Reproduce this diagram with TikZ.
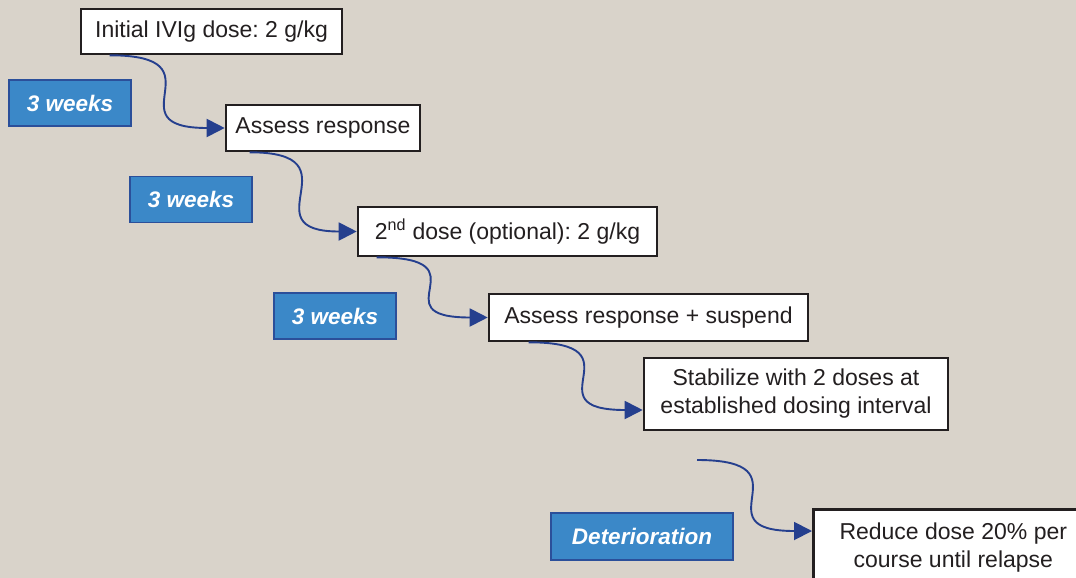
\documentclass[tikz,border=0pt]{standalone}
\usepackage{fontspec}
\setmainfont{Liberation Sans}
\usetikzlibrary{arrows.meta}
\frenchspacing
\definecolor{bg}{HTML}{D9D3CA}
\definecolor{bluefill}{HTML}{3B88C8}
\definecolor{blueline}{HTML}{2B4F9A}
\definecolor{arrowc}{HTML}{253F8E}
\definecolor{ink}{HTML}{231F20}
\tikzset{
  stepbox/.style={draw=ink, line width=2.6pt, fill=white, text=ink, align=center,
    inner sep=0pt, font=\fontsize{23}{28}\selectfont},
  tagbox/.style={draw=blueline, line width=1.4pt, fill=bluefill, text=white,
    inner sep=0pt, minimum width=122pt, minimum height=46pt,
    font=\fontsize{22.5}{27}\selectfont\bfseries\itshape},
  flow/.style={draw=arrowc, line width=1.9pt, -{Triangle[length=18pt,width=18pt]}}
}
\begin{document}
\begin{tikzpicture}[x=1pt,y=-1pt]
\useasboundingbox (0,0) rectangle (1076,578);
\clip (0,0) rectangle (1076,578);
\fill[bg] (0,0) rectangle (1076,578);

\node[stepbox, minimum width=261pt, minimum height=45pt] (b1) at (211.5,31.5) {Initial IVIg dose: 2 g/kg};
\node[stepbox, minimum width=194pt, minimum height=46pt] (b2) at (323,128) {Assess response};
\node[stepbox, minimum width=299pt, minimum height=49pt] (b3) at (507.5,231.5) {2\textsuperscript{nd} dose (optional): 2 g/kg};
\node[stepbox, minimum width=319pt, minimum height=47pt] (b4) at (648.5,317.5) {Assess response + suspend};
\node[stepbox, minimum width=304pt, minimum height=72pt] (b5) at (796,394) {Stabilize with 2 doses at\\established dosing interval};
\node[stepbox, minimum width=280pt, minimum height=76pt, anchor=north west] (b6) at (812,508) {Reduce dose 20\% per\\course until relapse};

\node[tagbox] (t1) at (70,103) {3 weeks};
\node[tagbox] (t2) at (191,199.5) {3 weeks};
\node[tagbox] (t3) at (335,316) {3 weeks};
\node[tagbox, minimum width=182pt, minimum height=47pt] (t4) at (642,536.5) {Deterioration};

\coordinate (s5) at (697,460);

\draw[flow] ([xshift=30pt]b1.south west) .. controls +(115,0) and +(-115,0) .. (b2.west);
\draw[flow] ([xshift=25pt]b2.south west) .. controls +(110,0) and +(-110,0) .. (b3.west);
\draw[flow] ([xshift=20pt]b3.south west) .. controls +(112,0) and +(-112,0) .. (b4.west);
\draw[flow] ([xshift=41pt]b4.south west) .. controls +(115,0) and +(-115,0) .. ([yshift=-16pt]b5.west);
\draw[flow] (s5) .. controls +(115,0) and +(-115,0) .. ([yshift=-23pt]b6.north west);
\end{tikzpicture}
\end{document}
